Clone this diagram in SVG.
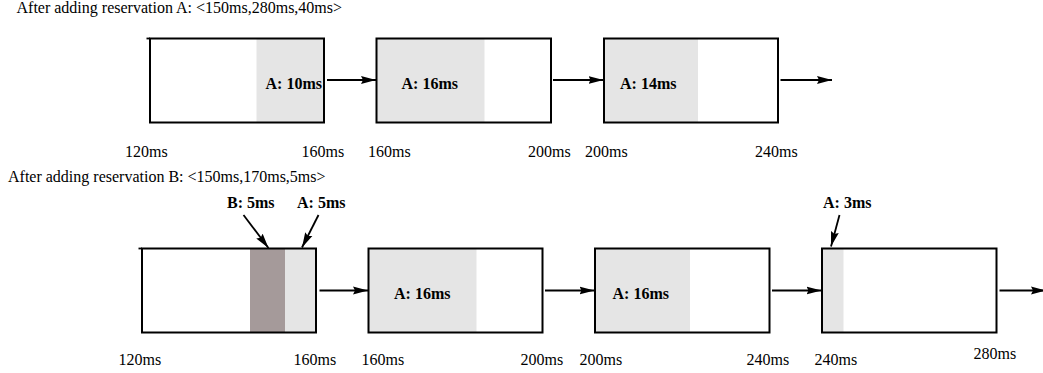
<svg xmlns="http://www.w3.org/2000/svg" width="1043" height="373" viewBox="0 0 1043 373">
<style>
.t{font-family:"Liberation Serif","Times New Roman",serif;font-size:16px;fill:#000}
.b{font-family:"Liberation Serif","Times New Roman",serif;font-size:16px;font-weight:bold;fill:#000}
.box{fill:none;stroke:#000;stroke-width:2}
.lg{fill:#e5e5e5}
.dg{fill:#a59a9a}
.c{stroke:#000;stroke-width:1.8;fill:none}
</style>
<defs>
<marker id="ah" markerUnits="userSpaceOnUse" markerWidth="16" markerHeight="9" refX="15" refY="4.5" orient="auto">
<path d="M0,0.5 L15,4.5 L0,8.5 L2,4.5 z" fill="#000"/>
</marker>
</defs>
<rect width="1043" height="373" fill="#fff"/>

<text class="t" x="16.5" y="13">After adding reservation A: &lt;150ms,280ms,40ms&gt;</text>
<text class="t" x="8" y="182">After adding reservation B: &lt;150ms,170ms,5ms&gt;</text>

<g id="top-slot1">
<rect class="lg" x="256.5" y="38.5" width="67.5" height="84"/>
<rect class="box" x="150" y="38.5" width="174" height="84"/>
<line class="c" x1="146.5" y1="38.5" x2="150" y2="38.5"/>
<text class="b" x="322" y="89" text-anchor="end">A: 10ms</text>
</g>
<g id="top-slot2">
<rect class="lg" x="376.5" y="38.5" width="108" height="84"/>
<rect class="box" x="376.5" y="38.5" width="174.5" height="84"/>
<text class="b" x="401.5" y="89">A: 16ms</text>
</g>
<g id="top-slot3">
<rect class="lg" x="604" y="38.5" width="94" height="84"/>
<rect class="box" x="604" y="38.5" width="174" height="84"/>
<text class="b" x="620" y="89">A: 14ms</text>
</g>

<g id="top-labels">
<text class="t" x="125" y="156.5">120ms</text>
<text class="t" x="301.5" y="156.5">160ms</text>
<text class="t" x="368" y="156.5">160ms</text>
<text class="t" x="528" y="156.5">200ms</text>
<text class="t" x="585" y="156.5">200ms</text>
<text class="t" x="755" y="156.5">240ms</text>
</g>

<g id="bot-slot1">
<rect class="dg" x="250" y="248.5" width="35" height="84"/>
<rect class="lg" x="285" y="248.5" width="32" height="84"/>
<rect class="box" x="142" y="248.5" width="174" height="84"/>
<line class="c" x1="138.5" y1="248.5" x2="142" y2="248.5"/>
</g>
<g id="bot-slot2">
<rect class="lg" x="368.5" y="248.5" width="108" height="84"/>
<rect class="box" x="368.5" y="248.5" width="174" height="84"/>
<text class="b" x="394" y="299">A: 16ms</text>
</g>
<g id="bot-slot3">
<rect class="lg" x="595" y="248.5" width="95" height="84"/>
<rect class="box" x="595" y="248.5" width="174.5" height="84"/>
<text class="b" x="612.5" y="299">A: 16ms</text>
</g>
<g id="bot-slot4">
<rect class="lg" x="822" y="248.5" width="21.5" height="84"/>
<rect class="box" x="822" y="248.5" width="174.5" height="84"/>
</g>

<g id="callouts">
<text class="b" x="227" y="208">B: 5ms</text>
<text class="b" x="297" y="208">A: 5ms</text>
<text class="b" x="823" y="208">A: 3ms</text>
</g>

<g id="bot-labels">
<text class="t" x="118.5" y="365">120ms</text>
<text class="t" x="293.5" y="365">160ms</text>
<text class="t" x="361.5" y="365">160ms</text>
<text class="t" x="520.5" y="365">200ms</text>
<text class="t" x="579.5" y="365">200ms</text>
<text class="t" x="746.5" y="365">240ms</text>
<text class="t" x="814.5" y="365">240ms</text>
<text class="t" x="973.5" y="358.5">280ms</text>
</g>

<g id="connectors">
<line class="c" x1="327" y1="80" x2="376" y2="80" marker-end="url(#ah)"/>
<line class="c" x1="553" y1="80" x2="603.5" y2="80" marker-end="url(#ah)"/>
<line class="c" x1="780.5" y1="80" x2="832" y2="80" marker-end="url(#ah)"/>
<line class="c" x1="319.5" y1="290.5" x2="368" y2="290.5" marker-end="url(#ah)"/>
<line class="c" x1="545" y1="290.5" x2="594.5" y2="290.5" marker-end="url(#ah)"/>
<line class="c" x1="772" y1="290.5" x2="821.5" y2="290.5" marker-end="url(#ah)"/>
<line class="c" x1="999.5" y1="290.5" x2="1046" y2="290.5" marker-end="url(#ah)"/>
<line class="c" x1="243.5" y1="215" x2="268.5" y2="248" marker-end="url(#ah)"/>
<line class="c" x1="318.5" y1="215" x2="302" y2="247.5" marker-end="url(#ah)"/>
<line class="c" x1="839.5" y1="215" x2="831" y2="246.5" marker-end="url(#ah)"/>
</g>
</svg>
